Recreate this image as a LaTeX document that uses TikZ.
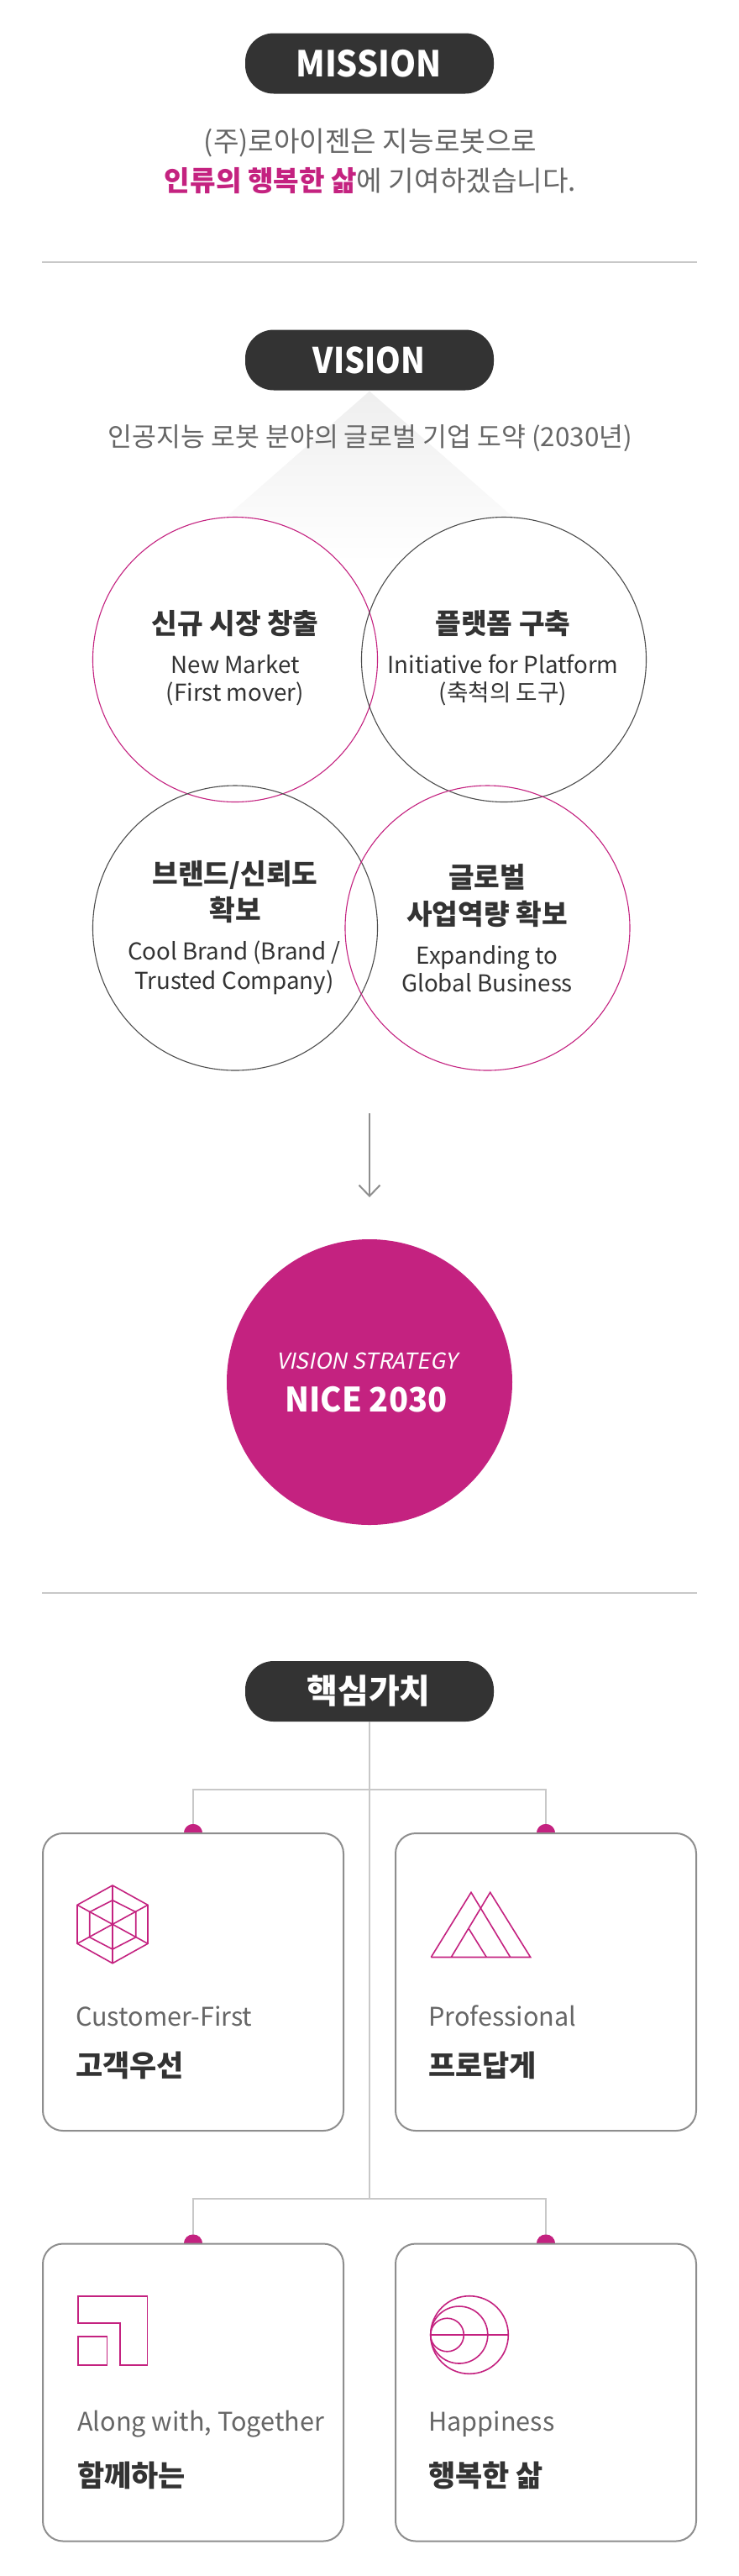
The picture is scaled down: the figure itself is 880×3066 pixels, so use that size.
\documentclass[tikz,border=0pt]{standalone}
\usepackage{fontspec}
\setmainfont{Noto Sans CJK KR}
\usetikzlibrary{arrows.meta,shapes.geometric}
\definecolor{pink}{HTML}{C42280}
\definecolor{dark}{HTML}{333333}
\definecolor{txt}{HTML}{666666}
\definecolor{rulec}{HTML}{C8C8C8}
\definecolor{cardc}{HTML}{8E8E8E}
\newcommand{\fs}[1]{\fontsize{#1}{#1}\selectfont}
\tikzset{
  pill/.style={draw=none,fill=dark,rounded corners=34pt,minimum width=296pt,minimum height=72pt,inner sep=0pt},
  pilltext/.style={anchor=base,text=white,inner sep=0pt,font=\fs{40}\bfseries},
  lead/.style={anchor=base,text=txt,inner sep=0pt,font=\fs{33.2}},
  divider/.style={draw=rulec,line width=2pt},
  ringp/.style={circle,draw=pink,line width=1.1pt,minimum size=339pt,inner sep=0pt},
  ringg/.style={circle,draw=black!70,line width=1.1pt,minimum size=339pt,inner sep=0pt},
  head/.style={anchor=base,text=dark,inner sep=0pt,font=\fs{33.3}\bfseries},
  sub/.style={anchor=base,text=dark,inner sep=0pt,font=\fs{27.7}},
  card/.style={rectangle,draw=cardc,fill=white,line width=2pt,rounded corners=24pt,minimum width=358pt,minimum height=354pt,inner sep=0pt},
  dotn/.style={circle,fill=pink,minimum size=22pt,inner sep=0pt},
  tree/.style={draw=rulec,line width=2pt},
  icon/.style={draw=pink,line width=1.6pt,line join=miter},
  cen/.style={anchor=base west,text=txt,inner sep=0pt,font=\fs{30.6}},
  cko/.style={anchor=base west,text=dark,inner sep=0pt,font=\fs{35}\bfseries},
}
\begin{document}
\begin{tikzpicture}[x=1pt,y=-1pt]
\useasboundingbox (0,0) rectangle (880,3066);
\fill[white] (0,0) rectangle (880,3066);

% MISSION
\node[pill] (mission) at (440,75.5) {};
\node[pilltext,font=\fs{42.5}\bfseries\addfontfeature{FakeStretch=0.93}] (missiont) at (439,91) {MISSION};
\node[lead] (m1) at (441,180) {(주)로아이젠은 지능로봇으로};
\node[lead] (m2) at (441,227) {{\bfseries\color{pink}인류의 행복한 삶}에 기여하겠습니다.};
\coordinate (d1a) at (50,312); \coordinate (d1b) at (830,312);
\draw[divider] (d1a) -- (d1b);

% VISION
\shade[top color=black!6.5,middle color=black!6.5,bottom color=white] (440,465.6) -- (673,670) -- (207,670) -- cycle;
\node[pill] (vision) at (440,428.5) {};
\node[pilltext,font=\fs{42}\bfseries\addfontfeature{FakeStretch=0.9}] (visiont) at (439.5,444) {VISION};
\node[lead,font=\fs{31.4}] (vsub) at (441,531) {인공지능 로봇 분야의 글로벌 기업 도약 (2030년)};

\fill[white] (280,785) circle (169.5) (600,785) circle (169.5);
\node[ringp] (c1) at (280,785) {};
\node[ringg] (c2) at (600,785) {};
\node[ringg] (c3) at (280,1104.5) {};
\node[ringp] (c4) at (580.5,1104.5) {};

\node[head] (c1h) at (280,754) {신규 시장 창출};
\node[sub] (c1a) at (280,801) {New Market};
\node[sub] (c1b) at (280,834) {(First mover)};
\node[head] (c2h) at (599,754) {플랫폼 구축};
\node[sub] (c2a) at (599,801) {Initiative for Platform};
\node[sub] (c2b) at (599,834) {(축척의 도구)};
\node[head] (c3h) at (280,1052) {브랜드/신뢰도};
\node[head] (c3i) at (280,1095) {확보};
\node[sub] (c3a) at (279,1142.5) {Cool Brand (Brand /};
\node[sub] (c3b) at (279,1177) {Trusted Company)};
\node[head] (c4h) at (580,1056) {글로벌};
\node[head] (c4i) at (580,1100) {사업역량 확보};
\node[sub] (c4a) at (580,1147) {Expanding to};
\node[sub] (c4b) at (580,1180) {Global Business};

% arrow
\coordinate (a1) at (440,1325); \coordinate (a2) at (440,1425);
\draw[draw=cardc,line width=2pt,-{Straight Barb[length=13pt,width=25pt,line width=2pt]}] (a1) -- (a2);

% strategy
\node[circle,fill=pink,minimum size=340pt,inner sep=0pt] (strategy) at (440,1645) {};
\node[anchor=base,text=white,inner sep=0pt,font=\fs{26.2}\addfontfeature{FakeSlant=0.2}] (st1) at (436.5,1629) {VISION STRATEGY};
\node[anchor=base,text=white,inner sep=0pt,font=\fs{40}\bfseries\addfontfeature{FakeStretch=0.95}] (st2) at (436,1680) {NICE 2030};
\coordinate (d2a) at (50,1896); \coordinate (d2b) at (830,1896);
\draw[divider] (d2a) -- (d2b);

% values
\node[pill] (values) at (440,2013) {};
\node[pilltext] (valuest) at (439,2027) {핵심가치};
\coordinate (j1) at (440,2130);
\coordinate (j2) at (440,2616.5);
\node[dotn] (p1) at (230,2182) {};
\node[dotn] (p2) at (650,2182) {};
\node[dotn] (p3) at (230,2670.5) {};
\node[dotn] (p4) at (650,2670.5) {};
\draw[tree] (values.south) -- (j2);
\draw[tree] (p1.center) |- (j1) -| (p2.center);
\draw[tree] (p3.center) |- (j2) -| (p4.center);
\node[dotn] at (230,2182) {};
\node[dotn] at (650,2182) {};
\node[dotn] at (230,2670.5) {};
\node[dotn] at (650,2670.5) {};
\node[card] (k1) at (230,2359) {};
\node[card] (k2) at (650,2359) {};
\node[card] (k3) at (230,2847.5) {};
\node[card] (k4) at (650,2847.5) {};

% icon 1
\draw[icon] (134,2244) -- (176,2267.3) -- (176,2313.3) -- (134,2336.7) -- (92,2313.3) -- (92,2267.3) -- cycle;
\draw[icon] (134,2261.7) -- (161.7,2275.7) -- (161.7,2305.7) -- (134,2320) -- (106.7,2305.7) -- (106.7,2275.7) -- cycle;
\draw[icon] (134,2244) -- (134,2336.7) (92,2267.3) -- (176,2313.3) (176,2267.3) -- (92,2313.3);
% icon 2
\draw[icon] (513.3,2329.5) -- (631.7,2329.5) -- (583.7,2252.3) -- (537.3,2329.5);
\draw[icon] (513.3,2329.5) -- (561,2252.3) -- (607.7,2329.5);
\draw[icon] (558.3,2295.7) -- (579.3,2329.5);
% icon 3
\draw[icon] (92.7,2732.7) -- (175.3,2732.7) -- (175.3,2815) -- (142.7,2815) -- (142.7,2765) -- (92.7,2765) -- cycle;
\draw[icon] (92.7,2780.7) rectangle (127.3,2815);
% icon 4
\draw[icon] (559,2779) circle (46.3);
\draw[icon] (546.8,2779) circle (34);
\draw[icon] (532.5,2779) circle (19.8);
\draw[icon] (512.7,2779) -- (605.3,2779);

\node[cen] (t1) at (90,2411) {Customer-First};
\node[cko] (u1) at (90,2471) {고객우선};
\node[cen] (t2) at (510,2411) {Professional};
\node[cko] (u2) at (510,2471) {프로답게};
\node[cen] (t3) at (92,2893) {Along with, Together};
\node[cko] (u3) at (92,2959) {함께하는};
\node[cen] (t4) at (510,2893) {Happiness};
\node[cko] (u4) at (510,2959) {행복한 삶};
\end{tikzpicture}
\end{document}
